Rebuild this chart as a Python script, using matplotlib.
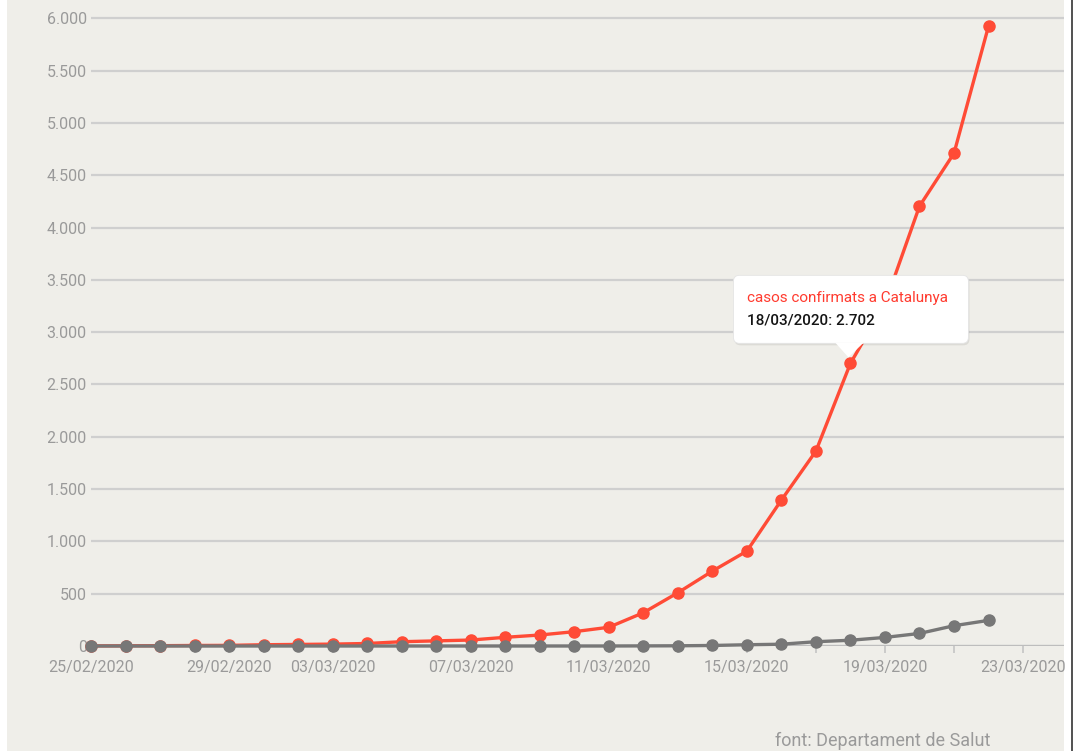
import matplotlib
matplotlib.use("Agg")
import matplotlib.pyplot as plt
import matplotlib.transforms as mtransforms
from matplotlib.patches import FancyBboxPatch, Polygon, Rectangle
from matplotlib.ticker import FuncFormatter
import pandas as pd

# dades (casos confirmats i morts a Catalunya)
dies = pd.date_range("2020-02-25", "2020-03-22", freq="D")
casos = [1, 2, 3, 5, 6, 12, 15, 18, 24, 41, 49, 57, 83, 105, 137, 179, 318, 509,
         716, 907, 1395, 1863, 2702, 3270, 4204, 4710, 5925]
morts = [0, 0, 0, 0, 0, 0, 0, 0, 0, 0, 0, 0, 0, 0, 0, 0, 1, 2, 5, 12, 17, 41,
         55, 82, 120, 194, 245]
etiq_pos = [0, 4, 7, 11, 15, 19, 23, 27]
etiq_txt = ["25/02/2020", "29/02/2020", "03/03/2020", "07/03/2020",
            "11/03/2020", "15/03/2020", "19/03/2020", "23/03/2020"]
y_ticks = [0, 500, 1000, 1500, 2000, 2500, 3000, 3500, 4000, 4500, 5000, 5500, 6000]
idx_tooltip = 22
nom_serie = "casos confirmats a Catalunya"

plt.rcParams['font.family'] = ['Roboto', 'DejaVu Sans']
W, H = 1077, 751
fig = plt.figure(figsize=(W / 100, H / 100), dpi=100)
fig.patch.set_facecolor("white")

# fons beix i vora dreta
fig.add_artist(Rectangle((7 / W, 0), (1064 - 7) / W, 1, transform=fig.transFigure,
                         facecolor="#efeee9", edgecolor="none", zorder=0))
fig.add_artist(plt.Line2D([1072 / W, 1072 / W], [0, 1], transform=fig.transFigure,
                          color="#333333", lw=1.2))

ax = fig.add_axes([91 / W, 105 / H, (1064 - 91) / W, 646 / H])
ax.set_facecolor("none")
for s in ax.spines.values():
    s.set_visible(False)

x = list(range(len(dies)))
ax.plot(x, casos, color="#ff4b36", lw=2.4, marker="o", markersize=8,
        clip_on=False, zorder=3)
ax.plot(x, morts, color="#777777", lw=2.4, marker="o", markersize=8,
        clip_on=False, zorder=4)

ax.set_xlim(0, (1064 - 91) / 34.52)
ax.set_ylim(0, 6175)
ax.set_yticks(y_ticks)
ax.yaxis.set_major_formatter(FuncFormatter(lambda v, p: f"{v:,.0f}".replace(",", ".")))
ax.yaxis.grid(True, color="#cfcfcf", lw=1.6)
ax.set_axisbelow(True)
ax.axhline(0, color="#bdbdbd", lw=1.6, zorder=1)
ax.tick_params(axis="y", length=0, pad=3, labelsize=11.5, labelcolor="#9a9a9a")

ax.set_xticks(etiq_pos)
ax.set_xticklabels(etiq_txt)
ax.set_xticks(list(range(1, 28, 2)), minor=True)
ax.tick_params(axis="x", which="both", length=5, color="#c4c4c4", width=1.2,
               pad=5, labelsize=11.5, labelcolor="#9a9a9a")

# tooltip
px, py = ax.transData.transform((idx_tooltip, casos[idx_tooltip]))
ident = mtransforms.IdentityTransform()
fig.add_artist(FancyBboxPatch((px - 116, py + 18), 235, 68,
                              boxstyle="round,pad=0,rounding_size=6", transform=ident,
                              facecolor="black", alpha=0.08, edgecolor="none", zorder=5))
fig.add_artist(FancyBboxPatch((px - 117, py + 20), 235, 68,
                              boxstyle="round,pad=0,rounding_size=6", transform=ident,
                              facecolor="white", edgecolor="#e4e4e4", lw=0.6, zorder=6))
fig.add_artist(Polygon([(px - 15, py + 20.5), (px + 13, py + 20.5), (px - 2, py + 6)],
                       closed=True, transform=ident, facecolor="white",
                       edgecolor="none", zorder=7))
fig.text(px - 103, py + 65, nom_serie, transform=ident, color="#ff3b2f",
         fontsize=11, va="center", ha="left", zorder=8)
fig.text(px - 103, py + 43,
         f"{dies[idx_tooltip]:%d/%m/%Y}: " + f"{casos[idx_tooltip]:,}".replace(",", "."),
         transform=ident, color="#151515", fontsize=11, fontweight="medium",
         va="center", ha="left", zorder=8)

fig.text(775 / W, 10 / H, "font: Departament de Salut", color="#9a9a9a",
         fontsize=13, ha="left", va="center")

fig.savefig("out.png", dpi=100)
